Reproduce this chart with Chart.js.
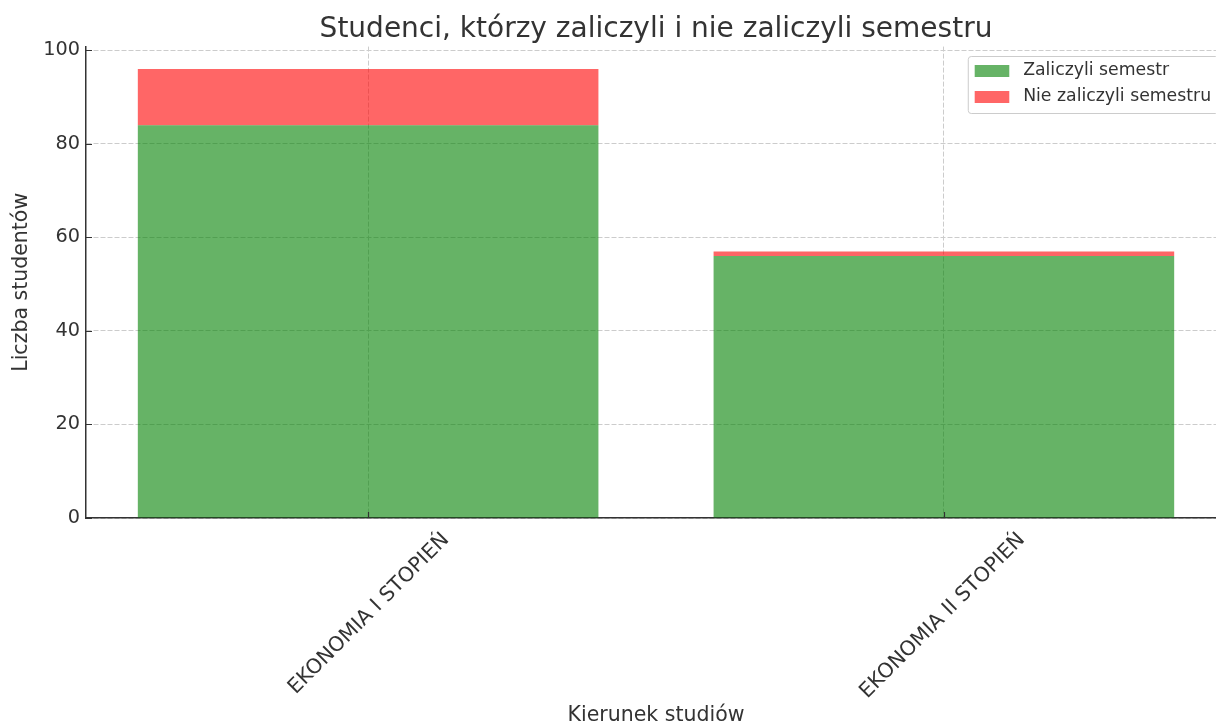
<!DOCTYPE html>
<html>
<head>
<meta charset="utf-8">
<script src="https://cdn.jsdelivr.net/npm/chart.js@4/dist/chart.umd.min.js"></script>
<style>
  html, body { margin: 0; padding: 0; background: #ffffff; }
  #wrap { width: 1216px; height: 726px; overflow: hidden; position: relative; }
  canvas { display: block; }
</style>
</head>
<body>
<div id="wrap"><canvas id="c" width="1240" height="726"></canvas></div>
<script>
const categories = ['EKONOMIA I STOPIEŃ', 'EKONOMIA II STOPIEŃ'];
const passedLabel = 'Zaliczyli semestr';
const failedLabel = 'Nie zaliczyli semestru';
const passed = [84, 56];
const failed = [12, 1];
const yTicks = [0, 20, 40, 60, 80, 100];

const TEXT = '#333333';
const FONT = "'DejaVu Sans', sans-serif";
const GREEN = 'rgba(0,128,0,0.6)';
const RED = 'rgba(255,0,0,0.6)';

Chart.defaults.font.family = FONT;
Chart.defaults.color = TEXT;

const inwardTicks = {
  id: 'inwardTicks',
  afterDatasetsDraw(chart) {
    const ctx = chart.ctx, x = chart.scales.x, y = chart.scales.y, a = chart.chartArea;
    ctx.save();
    ctx.strokeStyle = TEXT;
    ctx.lineWidth = 1.2;
    ctx.beginPath();
    x.ticks.forEach(t => {
      const px = Math.round(x.getPixelForValue(t.value)) + 0.5;
      ctx.moveTo(px, a.bottom); ctx.lineTo(px, a.bottom - 6);
    });
    y.ticks.forEach(t => {
      const py = Math.round(y.getPixelForValue(t.value)) + 0.5;
      ctx.moveTo(a.left, py); ctx.lineTo(a.left + 6, py);
    });
    ctx.stroke();
    ctx.restore();
  }
};

const boxLegend = {
  id: 'boxLegend',
  afterDraw(chart) {
    const ctx = chart.ctx, a = chart.chartArea;
    const fs = 17.3;
    ctx.save();
    ctx.font = fs + 'px ' + FONT;
    const items = chart.data.datasets.map(d => ({ label: d.label, color: d.backgroundColor }));
    const tw = Math.max(...items.map(i => ctx.measureText(i.label).width));
    const pad = 0.4 * fs, hl = 2.0 * fs, htp = 0.8 * fs, rowH = 26;
    const w = pad + hl + htp + tw + pad;
    const h = 57;
    const right = a.right - 8;
    const left = right - w;
    const top = 56;
    ctx.beginPath();
    ctx.roundRect(left + 0.5, top + 0.5, w, h, 3);
    ctx.fillStyle = 'rgba(255,255,255,0.8)';
    ctx.fill();
    ctx.strokeStyle = '#cccccc';
    ctx.lineWidth = 1;
    ctx.stroke();
    items.forEach((it, i) => {
      const cy = top + 15 + i * rowH;
      ctx.fillStyle = it.color;
      ctx.fillRect(left + pad, cy - 6, hl, 12);
      ctx.fillStyle = TEXT;
      ctx.textBaseline = 'middle';
      ctx.textAlign = 'left';
      ctx.fillText(it.label, left + pad + hl + htp, cy);
    });
    ctx.restore();
  }
};

const toPoints = arr => arr.map((v, i) => ({ x: i, y: v }));

new Chart(document.getElementById('c'), {
  type: 'bar',
  data: {
    datasets: [
      { label: passedLabel, data: toPoints(passed), backgroundColor: GREEN, borderWidth: 0, stack: 's', barPercentage: 0.8, categoryPercentage: 1.0 },
      { label: failedLabel, data: toPoints(failed), backgroundColor: RED, borderWidth: 0, stack: 's', barPercentage: 0.8, categoryPercentage: 1.0 }
    ]
  },
  options: {
    responsive: false,
    animation: false,
    devicePixelRatio: 1,
    layout: { padding: { left: 0, right: 14, top: 0, bottom: 0 } },
    plugins: {
      legend: { display: false },
      tooltip: { enabled: false },
      title: {
        display: true,
        text: 'Studenci, którzy zaliczyli i nie zaliczyli semestru',
        font: { size: 28, weight: 'normal', family: FONT },
        color: TEXT,
        fullSize: false,
        padding: { top: 12.5, bottom: 0.5 }
      }
    },
    scales: {
      x: {
        type: 'linear',
        min: -0.49,
        max: 1.49,
        offset: false,
        afterBuildTicks: s => { s.ticks = categories.map((_, i) => ({ value: i })); },
        afterFit: s => { s.height = 208; },
        ticks: {
          autoSkip: false,
          minRotation: 45,
          maxRotation: 45,
          padding: 10,
          labelOffset: 78,
          font: { size: 20.5 },
          color: TEXT,
          callback: v => categories[Math.round(v)] ?? ''
        },
        grid: { offset: false, color: '#cccccc', lineWidth: 1, drawTicks: false },
        border: { display: true, color: TEXT, width: 1.5, dash: [5, 2] },
        title: {
          display: true,
          text: 'Kierunek studiów',
          font: { size: 20.5, lineHeight: 1.0 },
          color: TEXT,
          padding: { top: 0, bottom: 0 }
        }
      },
      y: {
        min: 0,
        max: 100.8,
        stacked: true,
        afterBuildTicks: s => { s.ticks = yTicks.map(v => ({ value: v })); },
        afterFit: s => { s.width = 86; },
        ticks: { padding: 6, font: { size: 19.3 }, color: TEXT },
        grid: { color: '#cccccc', lineWidth: 1, drawTicks: false },
        border: { display: true, color: TEXT, width: 1.5, dash: [5, 2] },
        title: {
          display: true,
          text: 'Liczba studentów',
          font: { size: 20.5 },
          color: TEXT,
          padding: { top: 9.5, bottom: 0 }
        }
      }
    }
  },
  plugins: [inwardTicks, boxLegend]
});
</script>
</body>
</html>
